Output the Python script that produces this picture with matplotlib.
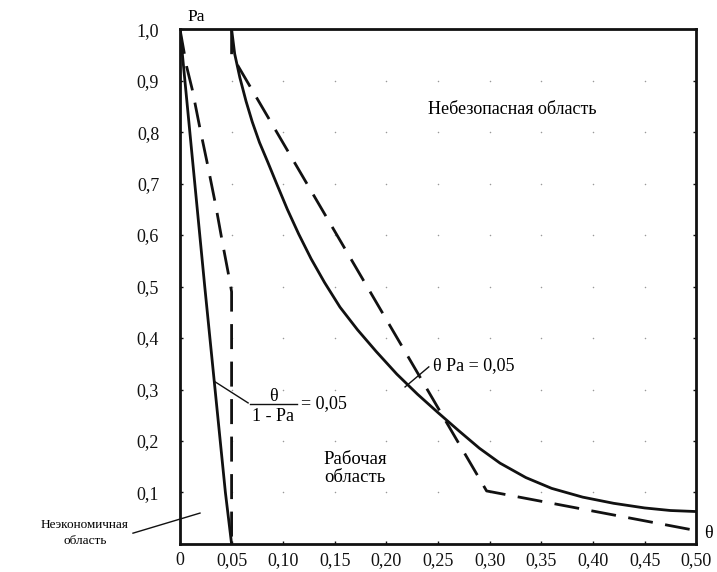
import numpy as np
import matplotlib
matplotlib.use("Agg")
import matplotlib.pyplot as plt

plt.rcParams['font.family'] = ['Liberation Serif', 'DejaVu Serif']

# curve theta/(1-Pa)=0.05 (solid)
econ_theta = [0.0, 0.011, 0.024, 0.034, 0.044, 0.05]
econ_pa = [1.0, 0.77, 0.50, 0.30, 0.10, 0.0]

# dashed approximation of the economic limit
econ_dash_theta = [0.0, 0.0065, 0.012, 0.0194, 0.0265, 0.0346, 0.041, 0.0484, 0.05, 0.05]
econ_dash_pa = [1.0, 0.927, 0.882, 0.807, 0.739, 0.658, 0.587, 0.509, 0.49, 0.0]

# curve theta*Pa=0.05 (solid)
safe_theta = [0.05, 0.053, 0.058, 0.064, 0.070, 0.077, 0.085, 0.094, 0.104, 0.115,
              0.127, 0.140, 0.155, 0.172, 0.190, 0.210, 0.230, 0.250, 0.270, 0.290,
              0.310, 0.335, 0.360, 0.390, 0.420, 0.450, 0.475, 0.5]
safe_pa = [1.0, 0.952, 0.906, 0.860, 0.820, 0.780, 0.742, 0.698, 0.650, 0.602,
           0.554, 0.508, 0.460, 0.416, 0.374, 0.330, 0.291, 0.255, 0.220, 0.186,
           0.157, 0.129, 0.108, 0.091, 0.079, 0.070, 0.065, 0.063]

# dashed approximation of the safety limit
safe_dash_theta = [0.05, 0.05, 0.297, 0.5]
safe_dash_pa = [1.0, 0.95, 0.103, 0.026]

x_ticks = [0, 0.05, 0.10, 0.15, 0.20, 0.25, 0.30, 0.35, 0.40, 0.45, 0.50]
x_labels = ['0', '0,05', '0,10', '0,15', '0,20', '0,25', '0,30', '0,35', '0,40', '0,45', '0,50']
y_ticks = [0.1, 0.2, 0.3, 0.4, 0.5, 0.6, 0.7, 0.8, 0.9, 1.0]
y_labels = ['0,1', '0,2', '0,3', '0,4', '0,5', '0,6', '0,7', '0,8', '0,9', '1,0']

fig = plt.figure(figsize=(7.17, 5.72), dpi=100)
ax = fig.add_axes([0.251, 0.049, 0.720, 0.900])
ax.set_xlim(0, 0.5)
ax.set_ylim(0, 1.0)

# dotted grid
gx, gy = np.meshgrid(x_ticks[1:-1], y_ticks[:-1])
ax.scatter(gx.ravel(), gy.ravel(), s=1.2, color='#999999', zorder=1, linewidths=0)

lw = 2.0
dash = (0, (9, 4.5))
ink = '#111111'
ax.plot(econ_theta, econ_pa, color=ink, lw=lw, solid_capstyle='butt')
ax.plot(econ_dash_theta, econ_dash_pa, color=ink, lw=lw, linestyle=dash)
ax.plot(safe_theta, safe_pa, color=ink, lw=lw)
ax.plot(safe_dash_theta, safe_dash_pa, color=ink, lw=lw, linestyle=dash)

for s in ax.spines.values():
    s.set_linewidth(2.0)
    s.set_color(ink)

ax.set_xticks(x_ticks)
ax.set_xticklabels(x_labels)
ax.set_yticks(y_ticks)
ax.set_yticklabels(y_labels)
ax.tick_params(direction='in', length=2, width=1, labelsize=13, pad=6,
               right=True, colors=ink)
ax.tick_params(axis='y', pad=15)

# region labels
ax.text(0.322, 0.843, 'Небезопасная область', fontsize=13, ha='center', va='center')
ax.text(0.1696, 0.146, 'Рабочая\nобласть', fontsize=13.5, ha='center', va='center',
        linespacing=1.05)
ax.text(-0.092, 0.021, 'Неэкономичная\nобласть', fontsize=9.5, ha='center', va='center',
        linespacing=1.4)
ax.plot([-0.0455, 0.0194], [0.021, 0.06], color=ink, lw=1.0, clip_on=False)

# theta*Pa label
ax.text(0.245, 0.346, 'θ Pa = 0,05', fontsize=13, ha='left', va='center')
ax.plot([0.218, 0.241], [0.305, 0.344], color=ink, lw=1.0)

# theta/(1-Pa) label, written as a fraction
ax.text(0.0905, 0.286, 'θ', fontsize=13, ha='center', va='center')
ax.plot([0.0678, 0.1133], [0.272, 0.272], color=ink, lw=1.0)
ax.text(0.0905, 0.247, '1 - Pa', fontsize=13, ha='center', va='center')
ax.text(0.1175, 0.272, '= 0,05', fontsize=13, ha='left', va='center')
ax.plot([0.034, 0.066], [0.315, 0.274], color=ink, lw=1.0)

# axis names
ax.text(0.016, 1.024, 'Pa', fontsize=12.5, ha='center', va='center')
ax.text(0.512, 0.021, 'θ', fontsize=13, ha='center', va='center')

fig.savefig('out.png', dpi=100)
